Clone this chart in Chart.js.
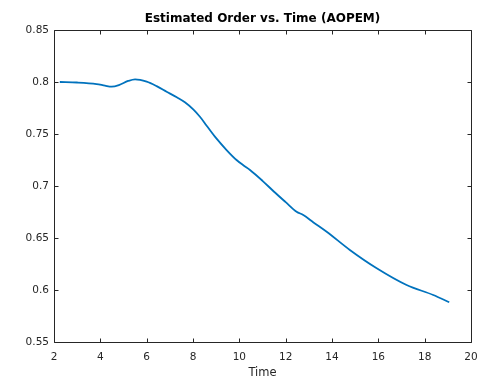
<!DOCTYPE html>
<html>
<head>
<meta charset="utf-8">
<script src="https://cdn.jsdelivr.net/npm/chart.js@4/dist/chart.umd.min.js"></script>
<style>
  html, body { margin: 0; padding: 0; background: #ffffff; }
  #wrap { width: 479px; height: 379px; }
</style>
</head>
<body>
<div id="wrap"><canvas id="c" width="479" height="379"></canvas></div>
<script>
// Estimated order over time
const timeVals = [2.25, 3.0, 3.84, 4.2, 4.49, 4.8, 5.2, 5.5, 6.0, 6.43, 6.86, 7.3, 7.65, 8.01, 8.3, 8.59, 9.0, 9.45, 9.88, 10.2, 10.46, 11.0, 11.5, 12.0, 12.47, 12.76, 13.2, 13.77, 14.77, 15.93, 17.22, 18.37, 19.06];
const orderVals = [0.800, 0.7995, 0.798, 0.7965, 0.7955, 0.797, 0.801, 0.8026, 0.8003, 0.796, 0.7907, 0.7853, 0.7805, 0.7737, 0.7666, 0.758, 0.746, 0.7346, 0.725, 0.7195, 0.7154, 0.7050, 0.6945, 0.6845, 0.6753, 0.6721, 0.6650, 0.656, 0.6385, 0.6209, 0.6048, 0.5952, 0.5882];

// Axis ticks
const xTicks = [2, 4, 6, 8, 10, 12, 14, 16, 18, 20];
const yTicks = [0.55, 0.6, 0.65, 0.7, 0.75, 0.8, 0.85];

const axisColor = '#262626';
const fontFamily = '"DejaVu Sans", "Liberation Sans", Arial, sans-serif';

// Box around the plot area with inward-pointing tick marks on all four sides
const boxAxes = {
  id: 'boxAxes',
  afterDraw(chart) {
    const { ctx, chartArea: a, scales } = chart;
    const len = 4;
    ctx.save();
    ctx.strokeStyle = axisColor;
    ctx.lineWidth = 1;
    ctx.beginPath();
    const L = Math.round(a.left) + 0.5, R = Math.round(a.right) + 0.5;
    const T = Math.round(a.top) + 0.5, B = Math.round(a.bottom) + 0.5;
    ctx.rect(L, T, R - L, B - T);
    scales.x.ticks.forEach(t => {
      const px = Math.round(scales.x.getPixelForValue(t.value)) + 0.5;
      ctx.moveTo(px, B); ctx.lineTo(px, B - len);
      ctx.moveTo(px, T); ctx.lineTo(px, T + len);
    });
    scales.y.ticks.forEach(t => {
      const py = Math.round(scales.y.getPixelForValue(t.value)) + 0.5;
      ctx.moveTo(L, py); ctx.lineTo(L + len, py);
      ctx.moveTo(R, py); ctx.lineTo(R - len, py);
    });
    ctx.stroke();
    ctx.restore();
  }
};

new Chart(document.getElementById('c'), {
  type: 'line',
  data: {
    datasets: [{
      data: timeVals.map((t, i) => ({ x: t, y: orderVals[i] })),
      borderColor: '#0072BD',
      borderWidth: 1.8,
      pointRadius: 0,
      cubicInterpolationMode: 'monotone',
      fill: false
    }]
  },
  options: {
    responsive: false,
    animation: false,
    layout: { padding: { left: 0, right: 8, top: 0, bottom: 0 } },
    plugins: {
      legend: { display: false },
      tooltip: { enabled: false },
      title: {
        display: true,
        text: 'Estimated Order vs. Time (AOPEM)',
        fullSize: false,
        color: '#000000',
        font: { family: fontFamily, size: 12, weight: 'bold', lineHeight: 1.2 },
        padding: { top: 12, bottom: 3.6 }
      }
    },
    scales: {
      x: {
        type: 'linear',
        min: 2,
        max: 20,
        afterBuildTicks: axis => { axis.ticks = xTicks.map(v => ({ value: v })); },
        afterFit: scale => {
          scale.height = 37;
          scale.paddingLeft = 0;
          scale.paddingRight = 0;
        },
        grid: { display: false, drawTicks: false },
        border: { display: false },
        ticks: {
          color: axisColor,
          padding: 9,
          maxRotation: 0,
          font: { family: fontFamily, size: 10.5 },
          callback: v => String(v)
        },
        title: {
          display: true,
          text: 'Time',
          color: axisColor,
          font: { family: fontFamily, size: 11.5, lineHeight: 1.0 },
          padding: { top: 0, bottom: 0 }
        }
      },
      y: {
        type: 'linear',
        min: 0.55,
        max: 0.85,
        afterBuildTicks: axis => { axis.ticks = yTicks.map(v => ({ value: v })); },
        afterFit: scale => {
          scale.width = 54;
          scale.paddingTop = 0;
          scale.paddingBottom = 0;
        },
        grid: { display: false, drawTicks: false },
        border: { display: false },
        ticks: {
          color: axisColor,
          padding: 5,
          font: { family: fontFamily, size: 10.5 },
          callback: v => String(v)
        }
      }
    }
  },
  plugins: [boxAxes]
});
</script>
</body>
</html>
